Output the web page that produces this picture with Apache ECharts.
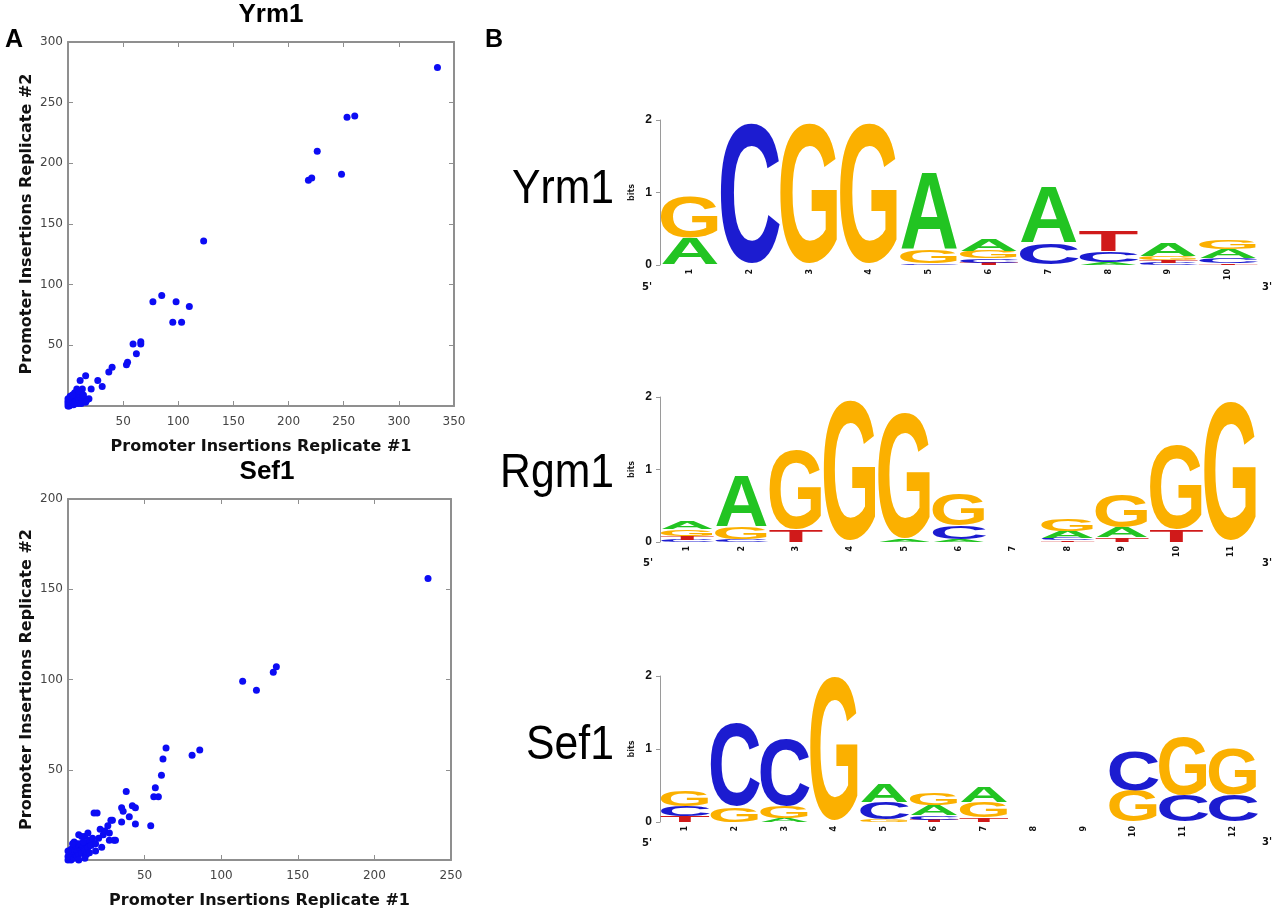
<!DOCTYPE html>
<html>
<head>
<meta charset="utf-8">
<title>Yrm1 / Rgm1 / Sef1</title>
<script src="https://cdn.jsdelivr.net/npm/echarts@6/dist/echarts.min.js"></script>
<style>
html, body { margin: 0; padding: 0; background: #fff; }
#chart { width: 1280px; height: 914px; }
</style>
</head>
<body>
<div id="chart"></div>
<script>
// A: promoter insertions, replicate #1 vs replicate #2
const yrm1Points = [
    [335, 279], [253, 238], [260, 239], [226, 210], [248, 191], [218, 186], [221, 188],
    [123, 136], [77, 86], [85, 91], [98, 86], [110, 82], [95, 69], [103, 69],
    [59, 51], [66, 51], [66, 53], [62, 43], [54, 36], [53, 34], [40, 32], [37, 28],
    [27, 21], [31, 16], [16, 25], [11, 21], [21, 14], [19, 6], [8, 14], [13, 14], [5, 9],
    [0, 0], [1, 0], [2, 1], [0, 2], [1, 3], [3, 1], [2, 4], [4, 2], [3, 3], [5, 1],
    [1, 5], [4, 5], [5, 3], [6, 2], [6, 5], [7, 3], [2, 6], [3, 7], [5, 7], [7, 6],
    [8, 4], [9, 2], [8, 8], [10, 5], [11, 3], [12, 7], [13, 4], [15, 6], [17, 5],
    [9, 10], [6, 11], [10, 12], [14, 9], [0, 4], [0, 6], [2, 8], [4, 9], [12, 2], [16, 3]
];
const sef1Points = [
    [235, 156], [114, 99], [123, 94], [134, 104], [136, 107], [64, 62], [62, 56], [61, 47],
    [81, 58], [86, 61], [57, 40], [56, 35], [59, 35], [54, 19], [38, 38], [35, 29], [36, 27],
    [40, 24], [42, 30], [44, 29], [44, 20], [35, 21], [29, 22], [26, 19], [19, 26], [17, 26],
    [30, 11], [21, 17], [23, 14], [24, 16], [28, 22], [27, 15], [27, 11], [31, 11], [18, 5],
    [22, 7], [11, 13], [7, 14], [12, 9], [16, 10], [4, 7], [2, 4],
    [0, 0], [1, 1], [2, 0], [0, 2], [3, 2], [1, 3], [4, 1], [5, 3], [3, 5], [6, 2], [2, 6],
    [6, 5], [7, 3], [8, 6], [5, 8], [9, 4], [10, 7], [8, 9], [11, 5], [12, 3], [13, 7],
    [14, 11], [10, 10], [9, 13], [15, 8], [16, 12], [13, 15], [18, 9], [20, 12], [6, 9],
    [0, 5], [4, 10], [7, 0], [11, 1], [3, 9], [14, 4]
];

// B: motif logos, bits per base at each position
const yrm1Pos = ['1', '2', '3', '4', '5', '6', '7', '8', '9', '10'];
const yrm1A = [0.37, 0, 0, 0, 1.08, 0.17, 0.78, 0.04, 0.18, 0.12];
const yrm1C = [0, 1.95, 0, 0, 0.02, 0.06, 0.30, 0.15, 0.03, 0.08];
const yrm1G = [0.57, 0, 1.95, 1.95, 0.18, 0.10, 0, 0, 0.05, 0.13];
const yrm1T = [0, 0, 0, 0, 0, 0.03, 0, 0.29, 0.04, 0.02];

const rgm1Pos = ['1', '2', '3', '4', '5', '6', '7', '8', '9', '10', '11'];
const rgm1A = [0.10, 0.71, 0, 0, 0.04, 0.03, 0, 0.10, 0.14, 0, 0];
const rgm1C = [0.03, 0.03, 0, 0, 0, 0.19, 0, 0.03, 0, 0, 0];
const rgm1G = [0.09, 0.17, 1.09, 1.94, 1.74, 0.43, 0, 0.17, 0.46, 1.17, 1.93];
const rgm1T = [0.05, 0, 0.17, 0, 0, 0, 0, 0.02, 0.06, 0.16, 0];

const sef1Pos = ['1', '2', '3', '4', '5', '6', '7', '8', '9', '10', '11', '12'];
const sef1A = [0, 0, 0.05, 0, 0.25, 0.14, 0.22, 0, 0, 0, 0, 0];
const sef1C = [0.14, 1.15, 0.92, 0, 0.23, 0.06, 0, 0, 0, 0.55, 0.36, 0.36];
const sef1G = [0.21, 0.20, 0.16, 1.98, 0.04, 0.16, 0.21, 0, 0, 0.43, 0.80, 0.64];
const sef1T = [0.08, 0, 0, 0, 0, 0.03, 0.06, 0, 0, 0, 0, 0];

const baseColors = { A: '#22c422', C: '#1c1cd0', G: '#fbb000', T: '#d01a1a' };
// ink width of each bold glyph in em, used to stretch letters to the column
const inkWidth = { A: 0.72, C: 0.66, G: 0.71, T: 0.60 };
const FS = 100;
const CAP = 0.716;
const MID = 0.063; // cap centre sits this far (in em) above the text anchor

const chart = echarts.init(document.getElementById('chart'));

// stack the letters of each column, smallest at the bottom
function buildStacks(a, c, g, t) {
    const items = [];
    a.forEach((_, i) => {
        const col = [['A', a[i]], ['C', c[i]], ['G', g[i]], ['T', t[i]]]
            .filter(d => d[1] > 0)
            .sort((p, q) => p[1] - q[1]);
        let y = 0;
        col.forEach(d => {
            items.push({ col: i, y0: y, y1: y + d[1], base: d[0] });
            y += d[1];
        });
    });
    return items;
}

function logoSeries(items, axisIdx) {
    return {
        type: 'custom',
        xAxisIndex: axisIdx,
        yAxisIndex: axisIdx,
        encode: { x: 0, y: [1, 2] },
        data: items.map(d => [d.col, d.y0, d.y1]),
        renderItem: function (params, api) {
            const bottom = api.coord([api.value(0), api.value(1)]);
            const top = api.coord([api.value(0), api.value(2)]);
            const colW = api.size([1, 0])[0];
            const h = bottom[1] - top[1];
            const base = items[params.dataIndex].base;
            const sy = h / (CAP * FS);
            const sx = colW * 0.99 / (inkWidth[base] * FS);
            return {
                type: 'text',
                x: bottom[0],
                y: bottom[1] - h / 2 + MID * FS * sy,
                scaleX: sx,
                scaleY: sy,
                style: {
                    text: base,
                    font: 'bold ' + FS + 'px "Liberation Sans"',
                    fill: baseColors[base],
                    align: 'center',
                    verticalAlign: 'middle',
                    textAlign: 'center',
                    textVerticalAlign: 'middle'
                }
            };
        }
    };
}

const gray = '#8f8f8f';
const tickFont = { fontFamily: 'DejaVu Sans', fontSize: 12, color: '#444' };
const nameFont = { fontFamily: 'DejaVu Sans', fontSize: 16, fontWeight: 'bold', color: '#111' };
const hideZero = v => (v === 0 ? '' : v);

function scatterX(grid, max, position) {
    const isMain = position === 'bottom';
    return {
        gridIndex: grid, type: 'value', position: position,
        min: 0, max: max, interval: 50,
        name: isMain ? 'Promoter Insertions Replicate #1' : '',
        nameLocation: 'middle', nameGap: 33, nameTextStyle: nameFont,
        axisLine: { show: true, onZero: false, lineStyle: { color: gray, width: 2 } },
        axisTick: { show: true, inside: true, length: 5, lineStyle: { color: gray } },
        axisLabel: { show: isMain, margin: 10, formatter: hideZero, ...tickFont },
        splitLine: { show: false }
    };
}

function scatterY(grid, max, position) {
    const isMain = position === 'left';
    return {
        gridIndex: grid, type: 'value', position: position,
        min: 0, max: max, interval: 50,
        name: isMain ? 'Promoter Insertions Replicate #2' : '',
        nameLocation: 'middle', nameGap: 33, nameTextStyle: nameFont,
        axisLine: { show: true, onZero: false, lineStyle: { color: gray, width: 2 } },
        axisTick: { show: true, inside: true, length: 5, lineStyle: { color: gray } },
        axisLabel: { show: isMain, margin: 5, formatter: hideZero, ...tickFont },
        splitLine: { show: false }
    };
}

function logoX(grid, cats) {
    return {
        gridIndex: grid, type: 'category', data: cats, boundaryGap: true,
        axisLine: { show: false, onZero: false }, axisTick: { show: false },
        axisLabel: {
            rotate: 90, margin: 4, interval: 0,
            fontFamily: 'DejaVu Sans', fontSize: 8, fontWeight: 'bold', color: '#111'
        }
    };
}

function logoY(grid) {
    return {
        gridIndex: grid, type: 'value', min: 0, max: 2, interval: 1,
        name: 'bits', nameLocation: 'middle', nameGap: 24, nameRotate: 90,
        nameTextStyle: { fontFamily: 'DejaVu Sans', fontSize: 8, fontWeight: 'bold', color: '#222' },
        axisLine: { show: true, onZero: false, lineStyle: { color: '#9a9a9a', width: 1 } },
        axisTick: { show: true, length: 4, lineStyle: { color: '#9a9a9a' } },
        axisLabel: { margin: 8, fontFamily: 'Liberation Sans', fontSize: 12, fontWeight: 'bold', color: '#111' },
        splitLine: { show: false }
    };
}

function textStyle(text, font, align) {
    return {
        text: text, font: font, fill: '#000',
        align: align, verticalAlign: 'middle', textAlign: align, textVerticalAlign: 'middle'
    };
}

function label(text, x, y, size) {
    return { type: 'text', x: x, y: y, style: textStyle(text, 'bold ' + size + 'px "Liberation Sans"', 'center') };
}

// motif names are set slightly condensed, right aligned against the logo
function motifName(text, y) {
    return { type: 'text', x: 614, y: y, scaleX: 0.89, style: textStyle(text, '48px "Liberation Sans"', 'right') };
}

function primeLabel(text, x, y) {
    return { type: 'text', x: x, y: y, style: Object.assign(textStyle(text, 'bold 10px "DejaVu Sans"', 'center'), { fill: '#111' }) };
}

const yrm1Items = buildStacks(yrm1A, yrm1C, yrm1G, yrm1T);
const rgm1Items = buildStacks(rgm1A, rgm1C, rgm1G, rgm1T);
const sef1Items = buildStacks(sef1A, sef1C, sef1G, sef1T);

const dotStyle = { color: '#0c0cf4', opacity: 1 };

const option = {
    backgroundColor: '#fff',
    animation: false,
    grid: [
        { left: 68, top: 42, width: 386, height: 364 },
        { left: 68, top: 499, width: 383, height: 361 },
        { left: 660, top: 120, width: 598, height: 145 },
        { left: 660, top: 397, width: 598, height: 145 },
        { left: 660, top: 676, width: 598, height: 146 }
    ],
    xAxis: [
        scatterX(0, 350, 'bottom'), scatterX(0, 350, 'top'),
        scatterX(1, 250, 'bottom'), scatterX(1, 250, 'top'),
        logoX(2, yrm1Pos), logoX(3, rgm1Pos), logoX(4, sef1Pos)
    ],
    yAxis: [
        scatterY(0, 300, 'left'), scatterY(0, 300, 'right'),
        scatterY(1, 200, 'left'), scatterY(1, 200, 'right'),
        logoY(2), logoY(3), logoY(4)
    ],
    graphic: [
        label('A', 14, 40, 25),
        label('B', 494, 40, 25),
        label('Yrm1', 271, 15, 26),
        label('Sef1', 267, 472, 26),
        motifName('Yrm1', 189.5),
        motifName('Rgm1', 474),
        motifName('Sef1', 745.5),
        primeLabel("5'", 647, 287), primeLabel("3'", 1267, 287),
        primeLabel("5'", 648, 563), primeLabel("3'", 1267, 563),
        primeLabel("5'", 647, 843), primeLabel("3'", 1267, 842)
    ],
    series: [
        {
            type: 'scatter', xAxisIndex: 0, yAxisIndex: 0, data: yrm1Points,
            symbol: 'circle', symbolSize: 7, itemStyle: dotStyle
        },
        {
            type: 'scatter', xAxisIndex: 2, yAxisIndex: 2, data: sef1Points,
            symbol: 'circle', symbolSize: 7, itemStyle: dotStyle
        },
        logoSeries(yrm1Items, 4),
        logoSeries(rgm1Items, 5),
        logoSeries(sef1Items, 6)
    ]
};

chart.setOption(option);
</script>
</body>
</html>
